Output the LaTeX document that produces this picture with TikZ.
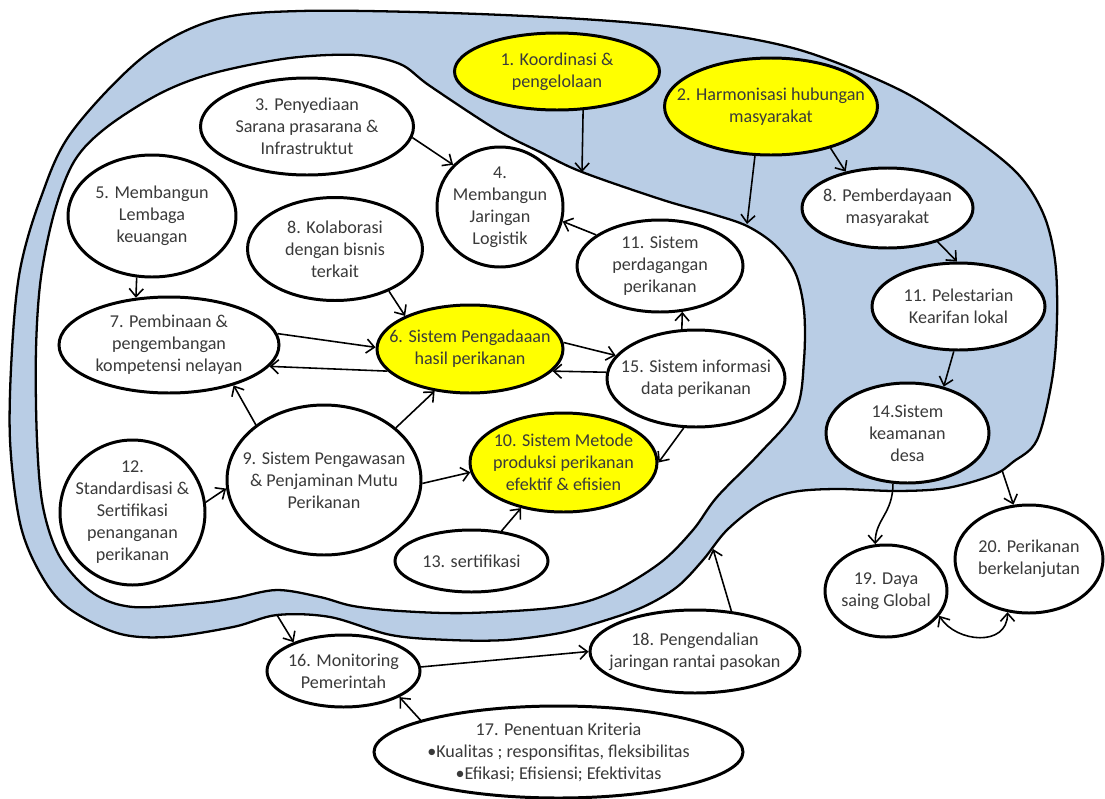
\documentclass[tikz,border=0pt]{standalone}
\usepackage{fontspec}
\setmainfont{Carlito}
\usetikzlibrary{shapes.geometric, arrows.meta}

\definecolor{bandblue}{HTML}{B9CDE5}
\definecolor{hotyellow}{HTML}{FFFF00}
\definecolor{inkgray}{HTML}{3A3A3A}

\tikzset{
  blob/.style={ellipse, draw, line width=1.7pt, fill=white, text=inkgray,
    align=center, inner xsep=-30pt, inner ysep=-20pt,
    font=\fontsize{10.3}{12.5}\selectfont},
  hot/.style={blob, fill=hotyellow},
  sz/.style 2 args={minimum width=#1*0.2mm, minimum height=#2*0.2mm},
  link/.style={->, line width=0.9pt},
}

\begin{document}
\begin{tikzpicture}[x=0.2mm, y=-0.2mm, >={Straight Barb[length=4.5pt,width=8pt]}]
	\useasboundingbox (0,0) rectangle (1105,799);

	% outer band and inner field
	\draw[line width=1.3pt, fill=bandblue] plot[smooth cycle, tension=0.55] coordinates {
		(214,20) (300,11) (450,13) (597,20) (697,30) (800,50) (900,90) (967,133)
		(1017,173) (1043,213) (1055,260) (1057,320) (1052,380) (1037,440) (1013,462)
		(993,475) (947,488) (897,491) (837,489) (793,492) (760,504) (727,530) (703,560)
		(677,587) (643,607) (600,622) (560,633) (506,640) (450,640) (391,635) (330,617)
		(277,615) (233,627) (167,637) (117,633) (67,607) (40,573) (20,523) (10,440)
		(12,350) (20,270) (40,200) (71,133) (143,57)};
	\draw[line width=1.3pt, fill=white] plot[smooth cycle, tension=0.55] coordinates {
		(214,73) (290,58) (357,55) (400,64) (430,86) (497,130) (540,152) (582,172)
		(663,200) (712,214) (747,226) (775,245) (795,272) (804,310) (804,360)
		(796,410) (760,453) (717,497) (693,530) (660,563) (610,593) (560,607)
		(468,613) (400,611) (353,606) (320,597) (277,590) (235,598) (200,603)
		(133,607) (93,593) (60,557) (43,507) (37,440) (36,350) (41,277) (55,210)
		(75,160) (107,127) (161,93)};

	\coordinate (c1) at (582,172);
	\coordinate (c2) at (747,224);
	\coordinate (c16) at (277,615);
	\coordinate (c18) at (713,549);
	\coordinate (c20) at (1002,470);

	\node[hot, sz={205}{77}] (n1) at (557,71.5) {1. Koordinasi \&\\pengelolaan};
	\node[hot, sz={213}{97}] (n2) at (771,106.5) {2. Harmonisasi hubungan\\masyarakat};
	\node[blob, sz={213}{97}] (n3) at (307,126.5) {3. Penyediaan\\Sarana prasarana \&\\Infrastruktut};
	\node[blob, sz={126}{120}] (n4) at (500,207) {4.\\Membangun\\Jaringan\\Logistik};
	\node[blob, sz={168}{122}] (n5) at (152,216) {5. Membangun\\Lembaga\\keuangan};
	\node[blob, sz={175}{103}] (n8a) at (335,249) {8. Kolaborasi\\dengan bisnis\\terkait};
	\node[blob, sz={166}{92}] (n11a) at (660,266) {11. Sistem\\perdagangan\\perikanan};
	\node[blob, sz={220}{96}] (n7) at (169,345) {7. Pembinaan \&\\pengembangan\\kompetensi nelayan};
	\node[hot, sz={186}{88}] (n6) at (470,349) {6. Sistem Pengadaaan\\hasil perikanan};
	\node[blob, sz={178}{97}] (n15) at (696,378.5) {15. Sistem informasi\\data perikanan};
	\node[blob, sz={194}{150}] (n9) at (324,480) {9. Sistem Pengawasan\\\& Penjaminan Mutu\\Perikanan};
	\node[hot, sz={187}{99}] (n10) at (563.5,462.5) {10. Sistem Metode\\produksi perikanan\\efektif \& efisien};
	\node[blob, sz={145}{145}] (n12) at (132.5,512.5) {12.\\Standardisasi \&\\Sertifikasi\\penanganan\\perikanan};
	\node[blob, sz={153}{62}] (n13) at (471.5,561) {13. sertifikasi};
	\node[blob, sz={171}{80}] (n8b) at (887.5,208) {8. Pemberdayaan\\masyarakat};
	\node[blob, sz={173}{87}] (n11b) at (958.5,306.5) {11. Pelestarian\\Kearifan lokal};
	\node[blob, sz={163}{100}] (n14) at (907.5,433) {14.Sistem\\keamanan\\desa};
	\node[blob, sz={122}{92}] (n19) at (886,591) {19. Daya\\saing Global};
	\node[blob, sz={148}{108}] (n20) at (1029,559) {20. Perikanan\\berkelanjutan};
	\node[blob, sz={153}{72}] (n16) at (343.5,671) {16. Monitoring\\Pemerintah};
	\node[blob, sz={210}{83}] (n18) at (695,651.5) {18. Pengendalian\\jaringan rantai pasokan};
	\node[blob, sz={369}{92}] (n17) at (558.5,752) {17. Penentuan Kriteria\\\textbullet Kualitas ; responsifitas, fleksibilitas\\\textbullet Efikasi; Efisiensi; Efektivitas};

	\draw[link] (n1.-56) -- (c1);
	\draw[link] (n2.-108) -- (c2);
	\draw[link] (n2.-35) -- (n8b.139);
	\draw[link] (n3.-6) -- (n4.138);
	\draw[link] (n5.-104) -- (n7.125);
	\draw[link] (n8a.-38) -- (n6.153);
	\draw[link] (n11a.154) -- (n4.-13);
	\draw[link] (n7.6) -- (n6.179);
	\draw[link] (n6.-165) -- (n7.-12);
	\draw[link] (n9.141) -- (n7.-32);
	\draw[link] (n9.36) -- (n6.-130);
	\draw[link] (n6.4) -- (n15.164);
	\draw[link] (n15.176) -- (n6.-15);
	\draw[link] (n15.106) -- (n11a.-64);
	\draw[link] (n15.-104) -- (n10.east);
	\draw[link] (n12.8) -- (n9.-175);
	\draw[link] (n9.-2) -- (n10.-174);
	\draw[link] (n13.45) -- (n10.-133);
	\draw[link] (n8b.-34) -- (n11b.92);
	\draw[link] (n11b.-96) -- (n14.52);
	\draw[link] (n14.-106) .. controls +(0,30) and +(0,-25) .. (n19.103);
	\draw[link] (c20) -- (n20.106);
	\draw[link, <->] (n19.-25) .. controls +(17,27) and +(0,35) .. (n20.-112);
	\draw[link] (c16) -- (n16.150);
	\draw[link] (n16.3) -- (n18.west);
	\draw[link] (n17.167) -- (n16.-25);
	\draw[link] (n18.48) -- (c18);
\end{tikzpicture}
\end{document}
